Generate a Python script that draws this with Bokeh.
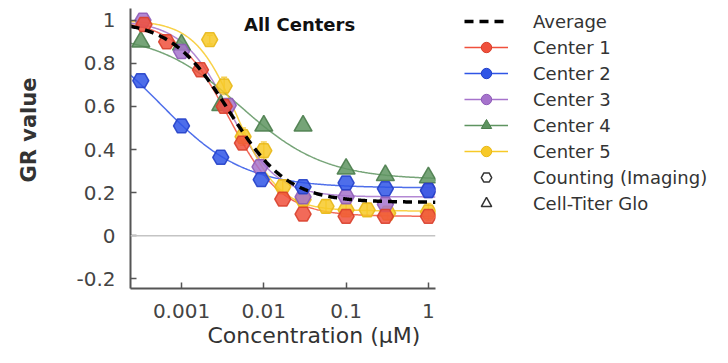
import numpy as np
from bokeh.plotting import figure
from bokeh.layouts import row
from bokeh.models import (Range1d, FixedTicker, Span, Label, Legend, LegendItem,
                          ColumnDataSource, Whisker, TeeHead, Title)
from bokeh.embed import file_html
from bokeh.resources import INLINE

FONT = "DejaVu Sans"

# ---------------- data ----------------
center_names = ["Center 1", "Center 2", "Center 3", "Center 4", "Center 5"]
center_colors = ["#f0503c", "#2f55e6", "#a673cc", "#5e9460", "#f7c928"]
center_edges = ["#d8402c", "#2440c8", "#8e5cb8", "#4b7d4d", "#e8b818"]
center_markers = ["hex", "hex", "hex", "triangle", "hex"]
legend_markers = ["circle", "circle", "circle", "triangle", "circle"]

c1_x = [0.00035, 0.00066, 0.0017, 0.0033, 0.0055, 0.017, 0.03, 0.1, 0.3, 1.0]
c1_y = [0.98, 0.90, 0.77, 0.60, 0.43, 0.17, 0.10, 0.09, 0.09, 0.09]

c2_x = [0.00032, 0.001, 0.003, 0.0093, 0.03, 0.1, 0.3, 1.0]
c2_y = [0.72, 0.51, 0.364, 0.26, 0.227, 0.245, 0.218, 0.21]

c3_x = [0.00034, 0.001, 0.0037, 0.009, 0.03, 0.1, 0.3, 1.0]
c3_y = [1.0, 0.855, 0.605, 0.32, 0.18, 0.18, 0.145, 0.21]

c4_x = [0.00032, 0.001, 0.003, 0.01, 0.03, 0.1, 0.3, 1.0]
c4_y = [0.90, 0.886, 0.605, 0.51, 0.51, 0.31, 0.28, 0.27]

c5_x = [0.0022, 0.0033, 0.0056, 0.01, 0.017, 0.03, 0.057, 0.1, 0.18, 0.32, 1.0]
c5_y = [0.91, 0.695, 0.46, 0.395, 0.227, 0.168, 0.136, 0.12, 0.12, 0.105, 0.11]
c5_err = [0.02, 0.04, 0.04, 0.04, 0.03, 0.03, 0.03, 0.03, 0.03, 0.03, 0.04]

center_x = [c1_x, c2_x, c3_x, c4_x, c5_x]
center_y = [c1_y, c2_y, c3_y, c4_y, c5_y]

# fitted sigmoid parameters
fit_top = [1.0, 1.0, 1.0, 0.94, 1.0]
fit_bottom = [0.09, 0.222, 0.18, 0.26, 0.115]
fit_ec50 = [0.0038, 0.000555, 0.0037, 0.0052, 0.0047]
fit_hill = [1.36, 0.86, 1.5, 0.85, 1.7]
avg_top, avg_bottom, avg_ec50, avg_hill = 1.0, 0.155, 0.0038, 1.22

x_ticks = [0.001, 0.01, 0.1, 1]
x_tick_labels = ["0.001", "0.01", "0.1", "1"]
y_ticks = [-0.2, 0, 0.2, 0.4, 0.6, 0.8, 1]
y_tick_labels = ["-0.2", "0", "0.2", "0.4", "0.6", "0.8", "1"]

x_lo, x_hi = 0.00024, 1.22
y_lo, y_hi = -0.245, 1.0545


def sigmoid(c, top, bottom, ec50, h):
    return bottom + (top - bottom) / (1.0 + (c / ec50) ** h)


# ---------------- main figure ----------------
MAIN_W, H = 464, 347
p = figure(width=MAIN_W, height=H, x_axis_type="log",
           x_range=Range1d(x_lo, x_hi), y_range=Range1d(y_lo, y_hi),
           output_backend="svg", toolbar_location=None,
           min_border_left=130, min_border_right=MAIN_W - 435,
           min_border_top=8, min_border_bottom=53)
p.xgrid.visible = False
p.ygrid.visible = False
p.outline_line_color = None

for ax in (p.xaxis[0], p.yaxis[0]):
    ax.axis_line_color = "#555555"
    ax.axis_line_width = 2
    ax.major_tick_in = 6
    ax.major_tick_out = 0
    ax.major_tick_line_color = "#555555"
    ax.major_tick_line_width = 1.5
    ax.minor_tick_line_color = None
    ax.major_label_text_font = FONT
    ax.major_label_text_font_size = "20px"
    ax.major_label_text_color = "#444444"

p.xaxis.ticker = FixedTicker(ticks=x_ticks)
p.xaxis.major_label_overrides = dict(zip(x_ticks, x_tick_labels))
p.xaxis.major_label_standoff = 15
p.yaxis.ticker = FixedTicker(ticks=y_ticks)
p.yaxis.major_label_overrides = dict(zip(y_ticks, y_tick_labels))
p.yaxis.major_label_standoff = 15

p.add_layout(Span(location=0, dimension="width", line_color="#c4c4c4", line_width=1.5))

cx = np.logspace(np.log10(x_lo), np.log10(x_hi), 300)

for i in range(5):
    p.line(cx, sigmoid(cx, fit_top[i], fit_bottom[i], fit_ec50[i], fit_hill[i]),
           line_color=center_colors[i], line_width=1.5, line_alpha=0.85)

err_src = ColumnDataSource(dict(x=c5_x,
                                lo=[y - e for y, e in zip(c5_y, c5_err)],
                                hi=[y + e for y, e in zip(c5_y, c5_err)]))
p.add_layout(Whisker(source=err_src, base="x", lower="lo", upper="hi",
                     line_color="#f5cf50", line_width=1.5,
                     upper_head=TeeHead(size=6, line_color="#f5cf50", line_width=1.5),
                     lower_head=TeeHead(size=6, line_color="#f5cf50", line_width=1.5)))

order = [4, 3, 2, 0, 1]
for i in order:
    size = 18 if center_markers[i] == "triangle" else 16
    p.scatter(center_x[i], center_y[i], marker=center_markers[i], size=size,
              fill_color=center_colors[i], fill_alpha=0.85,
              line_color=center_edges[i], line_width=1.5, line_alpha=0.9)

p.line(cx, sigmoid(cx, avg_top, avg_bottom, avg_ec50, avg_hill),
       line_color="black", line_width=3.5, line_dash="9 6")

p.add_layout(Label(x=0.0272, y=0.98, text="All Centers", text_font=FONT,
                   text_font_size="18px", text_font_style="bold",
                   text_color="#111111", text_align="center", text_baseline="middle"))

p.add_layout(Title(text="Concentration (μM)", align="left", offset=77, standoff=0,
                   text_font=FONT, text_font_size="22px", text_font_style="normal",
                   text_color="#333333"), "below")
# spacer between tick labels and the y title
p.add_layout(Title(text=" ", standoff=30, text_font_size="1px"), "left")
p.add_layout(Title(text="GR value", align="left", offset=106, standoff=0,
                   text_font=FONT, text_font_size="21px", text_font_style="bold",
                   text_color="#333333"), "left")

# ---------------- legend figure ----------------
LEG_W = 712 - MAIN_W
lf = figure(width=LEG_W, height=H, x_range=Range1d(0, 1), y_range=Range1d(0, 1),
            output_backend="svg", toolbar_location=None,
            x_axis_location=None, y_axis_location=None,
            min_border=0)
lf.xgrid.visible = False
lf.ygrid.visible = False
lf.outline_line_color = None

# legend proxies: one point each, placed outside the visible range
px, py = [5], [5]
avg_leg = lf.line(px, py, line_color="black", line_width=3.5, line_dash="9 6")
items = [LegendItem(label="Average", renderers=[avg_leg])]
for i in range(5):
    lr = lf.line(px, py, line_color=center_colors[i], line_width=1.6)
    sr = lf.scatter(px, py, marker=legend_markers[i], size=10,
                    fill_color=center_colors[i], line_color=center_edges[i], line_width=1)
    items.append(LegendItem(label=center_names[i], renderers=[lr, sr]))
hr = lf.scatter(px, py, marker="hex", size=10, fill_color=None,
                line_color="#333333", line_width=1.5)
tr = lf.scatter(px, py, marker="triangle", size=10, fill_color=None,
                line_color="#333333", line_width=1.5)
items.append(LegendItem(label="Counting (Imaging)", renderers=[hr]))
items.append(LegendItem(label="Cell-Titer Glo", renderers=[tr]))

legend = Legend(items=items, location="top_left", orientation="vertical",
                glyph_width=44, glyph_height=26, label_height=26, spacing=0,
                label_standoff=25, padding=0, margin=0,
                border_line_color=None, background_fill_alpha=0,
                label_text_font=FONT, label_text_font_size="18px",
                label_text_color="#333333")
lf.add_layout(legend)

layout = row(p, lf)
open("out.html", "w").write(file_html(layout, INLINE))
